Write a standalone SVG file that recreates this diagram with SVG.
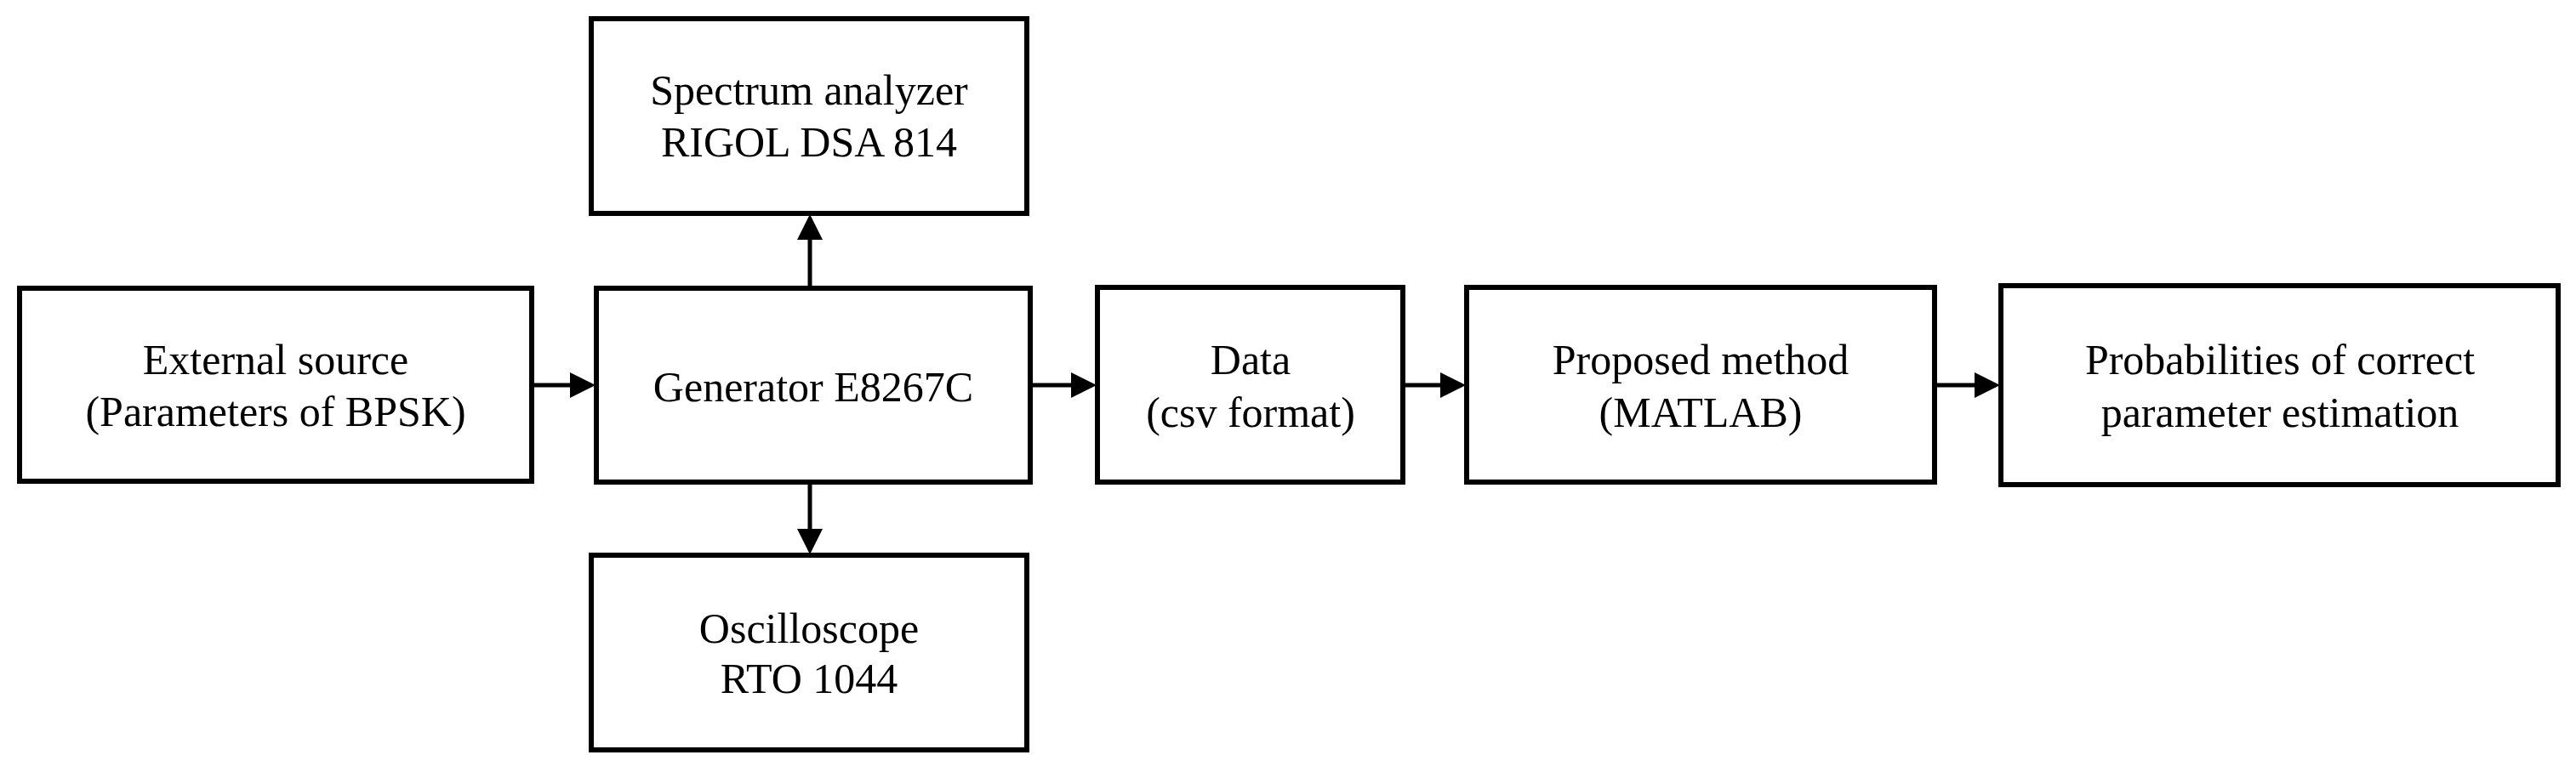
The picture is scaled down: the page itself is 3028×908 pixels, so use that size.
<svg xmlns="http://www.w3.org/2000/svg" width="3028" height="908" viewBox="0 0 3028 908">
<style>
rect{fill:#fff;stroke:#000;stroke-width:6}
text{font-family:"Liberation Serif",serif;font-size:50px;text-anchor:middle;fill:#000}
.c{stroke:#000;stroke-width:5;fill:none;marker-end:url(#a)}
</style>
<defs><marker id="a" markerWidth="6" markerHeight="6" refX="5" refY="3" orient="auto" markerUnits="strokeWidth"><path d="M0,0L6,3L0,6z" fill="#000"/></marker></defs>
<rect width="3028" height="908" style="stroke:none"/>
<g id="ext"><rect x="23" y="339" width="602" height="227"/><text x="324" y="440">External source</text><text x="324" y="501">(Parameters of BPSK)</text></g>
<g id="gen"><rect x="701" y="339" width="510" height="228"/><text x="956" y="472">Generator E8267C</text></g>
<g id="spec"><rect x="695" y="22" width="512" height="229"/><text x="951" y="123">Spectrum analyzer</text><text x="951" y="184">RIGOL DSA 814</text></g>
<g id="osc"><rect x="695" y="653" width="512" height="229"/><text x="951" y="756">Oscilloscope</text><text x="951" y="815">RTO 1044</text></g>
<g id="data"><rect x="1290" y="338" width="359" height="229"/><text x="1470" y="440">Data</text><text x="1470" y="502">(csv format)</text></g>
<g id="prop"><rect x="1724" y="338" width="550" height="229"/><text x="1999" y="440">Proposed method</text><text x="1999" y="502">(MATLAB)</text></g>
<g id="prob"><rect x="2352" y="336" width="655" height="234"/><text x="2680" y="440">Probabilities of correct</text><text x="2680" y="502">parameter estimation</text></g>
<g id="connectors">
<line class="c" x1="625" y1="453" x2="695" y2="453"/>
<line class="c" x1="1211" y1="453" x2="1284" y2="453"/>
<line class="c" x1="1649" y1="453" x2="1718" y2="453"/>
<line class="c" x1="2274" y1="453" x2="2346" y2="453"/>
<line class="c" x1="952" y1="339" x2="952" y2="257"/>
<line class="c" x1="952" y1="567" x2="952" y2="647"/>
</g>
</svg>
